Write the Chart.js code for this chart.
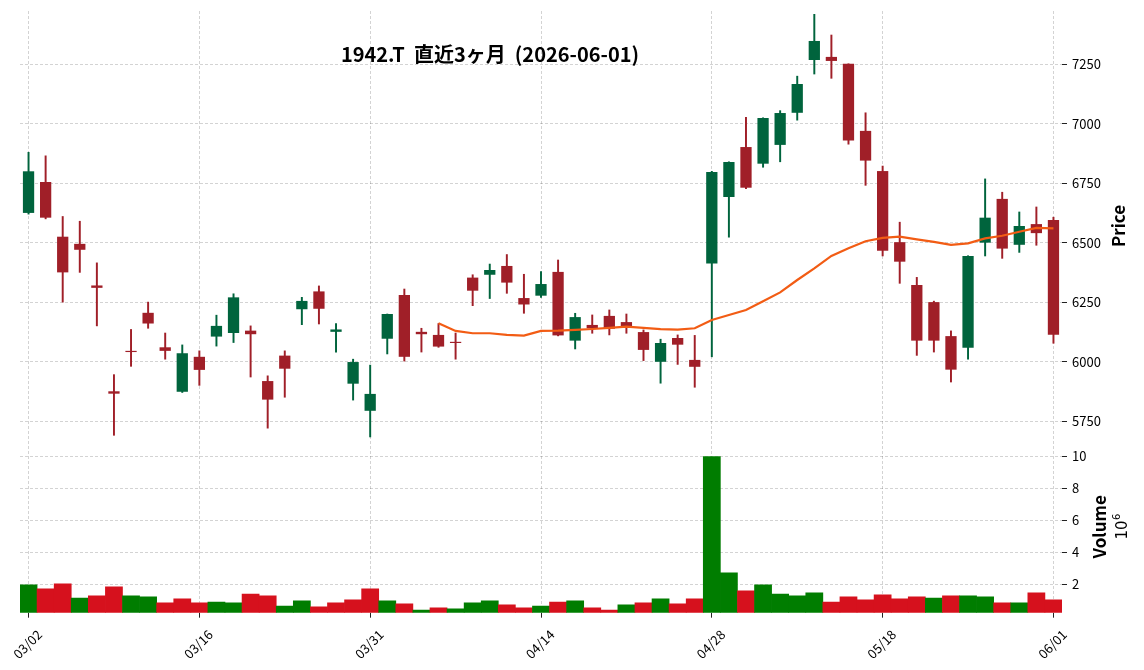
<!DOCTYPE html>
<html>
<head>
<meta charset="utf-8">
<script src="https://cdn.jsdelivr.net/npm/chart.js@4.4.1/dist/chart.umd.min.js"></script>
<style>
  html, body { margin: 0; padding: 0; background: #fff; }
  canvas { display: block; }
</style>
</head>
<body>
<canvas id="chart" width="1144" height="670"></canvas>
<script>
const title = "1942.T  直近3ヶ月  (2026-06-01)";

const dates = [
  "03/02","03/03","03/04","03/05","03/06","03/09","03/10","03/11","03/12","03/13",
  "03/16","03/17","03/18","03/19","03/23","03/24","03/25","03/26","03/27","03/30",
  "03/31","04/01","04/02","04/03","04/06","04/07","04/08","04/09","04/10","04/13",
  "04/14","04/15","04/16","04/17","04/20","04/21","04/22","04/23","04/24","04/27",
  "04/28","04/30","05/01","05/07","05/08","05/11","05/12","05/13","05/14","05/15",
  "05/18","05/19","05/20","05/21","05/22","05/25","05/26","05/27","05/28","05/29",
  "06/01"
];
const tickDates = ["03/02", "03/16", "03/31", "04/14", "04/28", "05/18", "06/01"];

const opens = [
  6625,6755,6525,6495,6320,5875,6045,6205,6060,5873,
  6020,6105,6120,6130,5918,6025,6220,6295,6125,5907,
  5793,6096,6280,6125,6112,6083,6353,6365,6402,6267,
  6277,6377,6088,6154,6192,6166,6124,5999,6099,6007,
  6412,6692,6902,6832,6911,7046,7268,7281,7252,6970,
  6801,6502,6322,6250,6107,6058,6500,6684,6491,6578,
  6595
];
const highs = [
  6880,6865,6610,6590,6415,5945,6135,6250,6120,6070,
  6045,6195,6285,6150,5940,6045,6270,6318,6160,6010,
  5985,6200,6305,6140,6160,6120,6365,6410,6450,6367,
  6378,6427,6203,6196,6217,6200,6133,6094,6112,6110,
  6800,6840,7027,7025,7055,7200,7460,7373,7252,7046,
  6822,6586,6354,6254,6129,6445,6768,6712,6629,6650,
  6607
];
const lows = [
  6620,6600,6250,6375,6150,5690,5980,6140,6010,5870,
  5900,6065,6080,5935,5720,5850,6155,6158,6040,5838,
  5683,6032,6002,6040,6060,6010,6235,6265,6287,6203,
  6270,6108,6053,6119,6112,6119,6004,5909,5988,5892,
  6020,6523,6727,6817,6840,7015,7209,7191,6914,6741,
  6444,6329,6026,6040,5914,6010,6444,6434,6459,6489,
  6077
];
const closes = [
  6800,6605,6375,6470,6310,5865,6040,6160,6045,6035,
  5965,6150,6270,6115,5840,5970,6255,6222,6135,5998,
  5864,6200,6020,6115,6063,6078,6298,6385,6332,6240,
  6326,6110,6187,6140,6138,6147,6049,6078,6071,5978,
  6797,6839,6731,7024,7045,7167,7348,7264,6929,6845,
  6466,6420,6088,6088,5966,6444,6605,6475,6570,6540,
  6113
];
const volumes = [
  1960000,1710000,2020000,1140000,1270000,1830000,1270000,1210000,830000,1080000,
  830000,890000,830000,1390000,1270000,640000,960000,580000,830000,1020000,
  1710000,960000,770000,390000,520000,460000,830000,960000,710000,520000,
  640000,890000,960000,520000,390000,710000,830000,1080000,770000,1080000,
  9980000,2710000,1580000,1960000,1390000,1270000,1460000,890000,1210000,1020000,
  1330000,1080000,1210000,1140000,1270000,1270000,1210000,830000,830000,1460000,
  1020000
];
// 25-day moving average as drawn (starts on the 25th session)
const ma25 = [
  null,null,null,null,null,null,null,null,null,null,
  null,null,null,null,null,null,null,null,null,null,
  null,null,null,null,6161,6129,6119,6119,6112,6109,
  6129,6130,6133,6137,6142,6147,6142,6136,6134,6140,
  6175,6196,6217,6254,6291,6343,6392,6444,6476,6506,
  6520,6525,6514,6503,6491,6497,6518,6529,6546,6562,
  6560
];
const priceTicks = [5750, 6000, 6250, 6500, 6750, 7000, 7250];
const volumeTicks = [2, 4, 6, 8, 10];

const UP = "#00643d", DOWN = "#a01f28";
const VOL_UP = "#007d00", VOL_DOWN = "#d6111d";
const GRID = "rgba(0,0,0,0.22)";
const FONT = '"Noto Sans CJK JP", "Noto Sans", sans-serif';

const candleColors = closes.map((c, i) => c >= opens[i] ? UP : DOWN);
const volumeColors = closes.map((c, i) => (i === 0 ? c >= opens[i] : c >= closes[i - 1]) ? VOL_UP : VOL_DOWN);

Chart.defaults.font.family = FONT;
Chart.defaults.font.size = 13;
Chart.defaults.color = "#000";

// titles drawn by hand so they read bottom-to-top like the original
const axisTitles = {
  id: "axisTitles",
  afterDraw(chart) {
    const c = chart.ctx;
    const py = chart.scales.y, vy = chart.scales.yv;
    c.save();
    c.fillStyle = "#000";
    c.textAlign = "center";
    c.textBaseline = "alphabetic";
    c.font = "bold 20px " + FONT;
    c.fillText(title, 490, 62);

    c.textBaseline = "middle";
    c.save();
    c.translate(1119, (py.top + py.bottom) / 2);
    c.rotate(-Math.PI / 2);
    c.font = "bold 17px " + FONT;
    c.fillText("Price", 0, 0);
    c.restore();

    const vmid = (vy.top + vy.bottom) / 2;
    c.save();
    c.translate(1100, vmid);
    c.rotate(-Math.PI / 2);
    c.font = "bold 17px " + FONT;
    c.fillText("Volume", 0, 0);
    c.restore();

    c.save();
    c.translate(1122, vmid);
    c.rotate(-Math.PI / 2);
    c.font = "15px DejaVu Sans";
    const w10 = c.measureText("10").width;
    c.font = "10px DejaVu Sans";
    const w6 = c.measureText("6").width;
    const start = -(w10 + w6) / 2;
    c.textAlign = "left";
    c.font = "15px DejaVu Sans";
    c.fillText("10", start, 1);
    c.font = "10px DejaVu Sans";
    c.fillText("6", start + w10 + 0.5, -5);
    c.restore();
    c.restore();
  }
};

new Chart(document.getElementById("chart"), {
  type: "bar",
  data: {
    labels: dates,
    datasets: [
      {
        type: "line",
        label: "MA25",
        data: ma25,
        yAxisID: "y",
        borderColor: "#f25c14",
        borderWidth: 2.2,
        pointRadius: 0,
        tension: 0,
        order: 0
      },
      {
        label: "body",
        data: opens.map((o, i) => [o, closes[i]]),
        yAxisID: "y",
        backgroundColor: candleColors,
        barPercentage: 0.66,
        categoryPercentage: 1,
        minBarLength: 1,
        grouped: false,
        order: 1
      },
      {
        label: "wick",
        data: lows.map((l, i) => [l, highs[i]]),
        yAxisID: "y",
        backgroundColor: candleColors,
        barThickness: 1.3,
        grouped: false,
        order: 2
      },
      {
        label: "volume",
        data: volumes,
        yAxisID: "yv",
        backgroundColor: volumeColors,
        barPercentage: 1,
        categoryPercentage: 1,
        grouped: false,
        order: 3
      }
    ]
  },
  options: {
    responsive: false,
    animation: false,
    devicePixelRatio: 1,
    layout: { padding: { left: 20, top: 11, right: 0, bottom: 0 } },
    plugins: { legend: { display: false }, tooltip: { enabled: false } },
    scales: {
      x: {
        offset: true,
        grid: {
          offset: false, color: GRID, lineWidth: 0.8,
          tickColor: "#222", tickLength: 5, tickWidth: 1, tickBorderDash: []
        },
        border: { display: false, dash: [3, 2] },
        ticks: {
          autoSkip: false, minRotation: 45, maxRotation: 45,
          labelOffset: 11, padding: 9
        },
        afterBuildTicks: s => {
          s.ticks = s.ticks.filter(t => tickDates.includes(dates[t.value]));
        },
        afterFit: s => { s.height = 57.3; s.paddingLeft = 0; s.paddingRight = 0; }
      },
      y: {
        position: "right",
        stack: "main",
        stackWeight: 430,
        min: 5666,
        max: 7474,
        grid: {
          color: GRID, lineWidth: 0.8,
          tickColor: "#222", tickLength: 5, tickWidth: 1, tickBorderDash: []
        },
        border: { display: false, dash: [3, 2] },
        ticks: { padding: 5, callback: v => String(v) },
        afterBuildTicks: s => { s.ticks = priceTicks.map(v => ({ value: v })); },
        afterFit: s => { s.width = 82; s.paddingTop = 0; s.paddingBottom = 0; }
      },
      yv: {
        position: "right",
        stack: "main",
        stackWeight: 171.7,
        min: 220000,
        max: 10950000,
        grid: {
          color: GRID, lineWidth: 0.8,
          tickColor: "#222", tickLength: 5, tickWidth: 1, tickBorderDash: []
        },
        border: { display: false, dash: [3, 2] },
        ticks: { padding: 5, callback: v => String(v / 1e6) },
        afterBuildTicks: s => { s.ticks = volumeTicks.map(v => ({ value: v * 1e6 })); },
        afterFit: s => { s.width = 82; s.paddingTop = 0; s.paddingBottom = 0; }
      }
    }
  },
  plugins: [axisTitles]
});
</script>
</body>
</html>
